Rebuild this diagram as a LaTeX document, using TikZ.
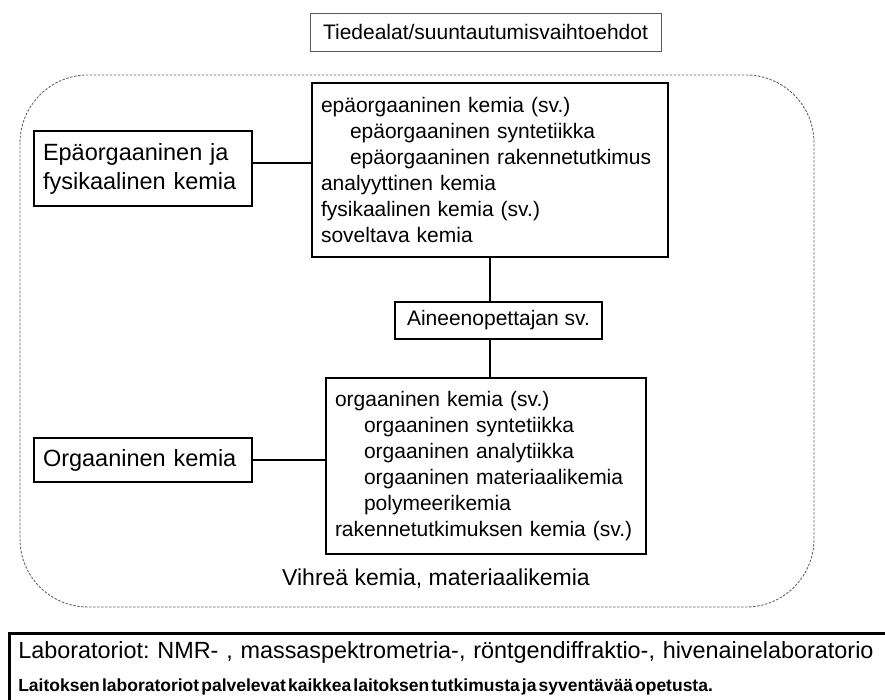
\documentclass[tikz,border=0pt]{standalone}
\usepackage{fontspec}
\setmainfont{Liberation Sans}
\usetikzlibrary{positioning,calc}
\frenchspacing
\tikzset{
    fieldBox/.style={
        draw=black,
        line width=2.5pt,
        fill=white,
        align=left,
        text width=200pt,
        inner xsep=9pt,
        font=\fontsize{23.5}{29}\selectfont
    },
    listBox/.style={
        draw=black,
        line width=1.8pt,
        fill=white,
        align=left,
        inner xsep=9pt,
        inner ysep=0pt,
        font=\fontsize{21}{26}\selectfont
    },
    plainBox/.style={
        draw=black,
        line width=1.6pt,
        fill=white,
        font=\fontsize{21}{26}\selectfont
    },
    link/.style={draw=black, line width=1.5pt},
}

\begin{document}
\begin{tikzpicture}[x=1pt, y=-1pt,
    titleBox/.style={draw=gray!70!black, line width=0.8pt, minimum width=351pt, minimum height=38pt, font=\fontsize{21}{26}\selectfont},
    area/.style={draw=gray!80!black, line width=0.9pt, dash pattern=on 2.5pt off 1.5pt, rounded corners=68pt},
    labBox/.style={draw=black, line width=2.5pt, anchor=north west, text width=900pt, inner xsep=9pt, inner ysep=8pt, align=left, font=\fontsize{23.4}{33}\selectfont}
]
    \clip (0,0) rectangle (885,700);

    % Title
    \node[titleBox] (title) at (485.5,32) {Tiedealat/suuntautumisvaihtoehdot};

    % Dashed area round the fields
    \draw[area] (20,75) rectangle (814,607);

    % Inorganic and physical chemistry
    \node[listBox, text width=338pt, minimum height=174pt] (inorg) at (490,170) {epäorgaaninen kemia (sv.)\\
        \hspace*{29pt}epäorgaaninen syntetiikka\\
        \hspace*{29pt}epäorgaaninen rakennetutkimus\\
        analyyttinen kemia\\
        fysikaalinen kemia (sv.)\\
        soveltava kemia};
    \node[fieldBox, minimum height=75pt] (inorgField) at (143,168.5) {Epäorgaaninen ja\\fysikaalinen kemia};
    \coordinate (inorgLink) at ([yshift=5.5pt]inorgField.east);
    \draw[link] (inorgLink) -- (inorgLink -| inorg.west);

    % Subject teacher
    \node[plainBox, minimum width=207pt, minimum height=37pt] (teacher) at (498.5,320.5) {Aineenopettajan sv.};
    \draw[link] (inorg.south) -- (inorg.south |- teacher.north);

    % Organic chemistry
    \node[listBox, text width=302pt, minimum height=176pt] (org) at (486,466) {orgaaninen kemia (sv.)\\
        \hspace*{29pt}orgaaninen syntetiikka\\
        \hspace*{29pt}orgaaninen analytiikka\\
        \hspace*{29pt}orgaaninen materiaalikemia\\
        \hspace*{29pt}polymeerikemia\\
        rakennetutkimuksen kemia (sv.)};
    \node[fieldBox, minimum height=44pt] (orgField) at (143,460) {Orgaaninen kemia};
    \draw[link] (orgField.east) -- (orgField.east -| org.west);
    \draw[link] (inorg.south |- teacher.south) -- (inorg.south |- org.north);

    \node[font=\fontsize{23}{28}\selectfont] (green) at (436,579) {Vihreä kemia, materiaalikemia};

    % Laboratories
    \node[labBox] (labs) at (8,632) {Laboratoriot: NMR- , massaspektrometria-, röntgendiffraktio-, hivenainelaboratorio\\
        {\bfseries\fontsize{17.5}{33}\selectfont\spaceskip=0.12em Laitoksen laboratoriot palvelevat kaikkea laitoksen tutkimusta ja syventävää opetusta.\rule[-25pt]{0pt}{0pt}}};
\end{tikzpicture}
\end{document}
